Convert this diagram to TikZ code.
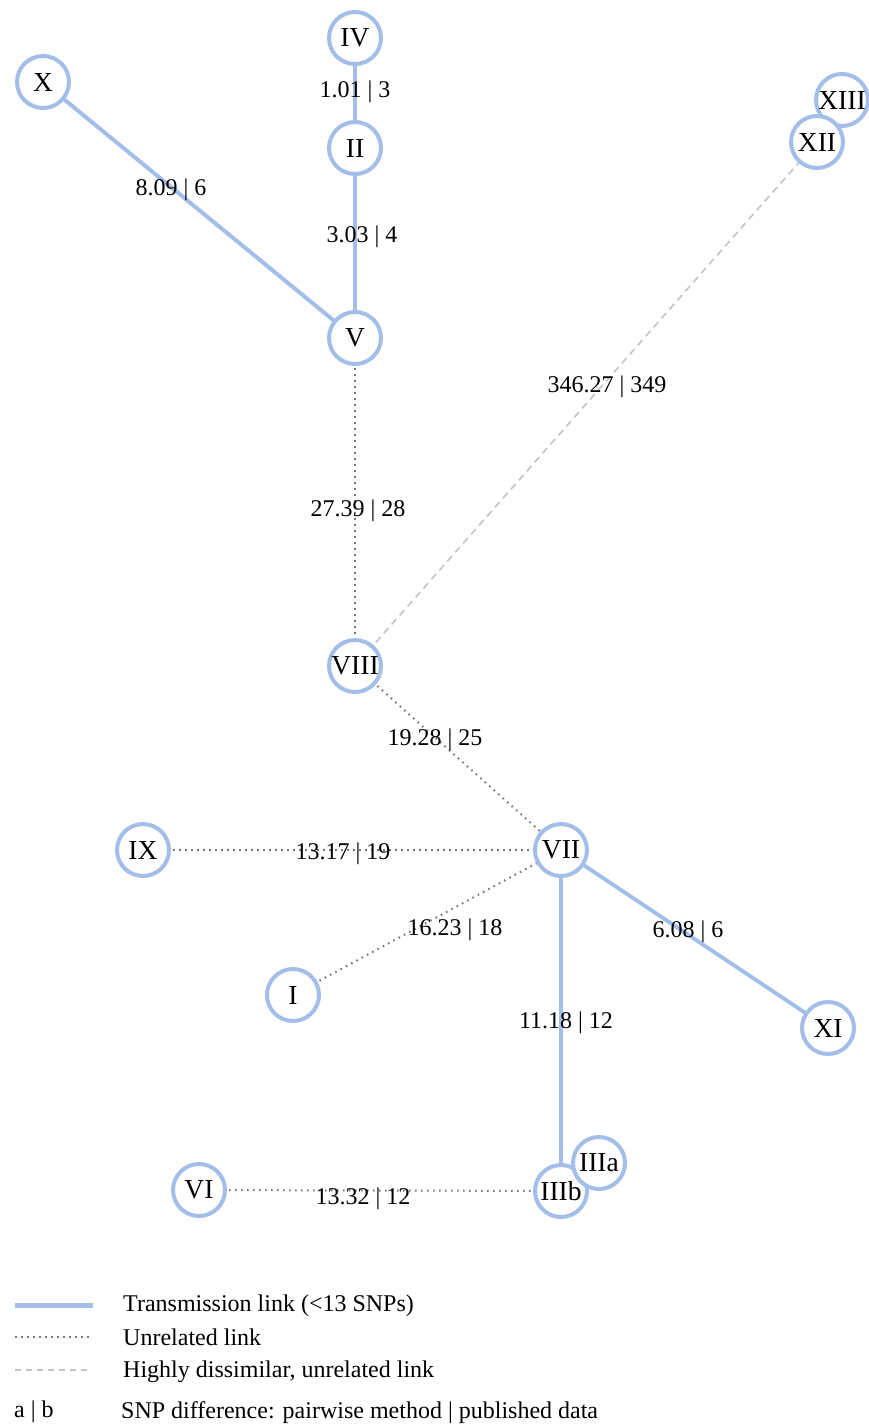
\documentclass[tikz,border=0pt]{standalone}
\usepackage{fontspec}
\setmainfont{Liberation Serif}
\definecolor{linkblue}{RGB}{163,190,232}
\definecolor{dotgray}{RGB}{120,120,120}
\definecolor{dashgray}{RGB}{195,195,195}
\begin{document}
\begin{tikzpicture}[x=1pt,y=-1pt,
  every node/.style={font=\fontsize{24}{28}\selectfont},
  case/.style={circle,draw=linkblue,line width=4pt,fill=white,minimum size=52pt,inner sep=0pt,font=\fontsize{27.5}{30}\selectfont},
  trans/.style={draw=linkblue,line width=4pt},
  unrel/.style={draw=dotgray,line width=2pt,dash pattern=on 1.6pt off 4.4pt},
  dissim/.style={draw=dashgray,line width=1.6pt,dash pattern=on 7pt off 5pt},
  elab/.style={inner sep=0pt},
  legtext/.style={anchor=west,inner sep=0pt}]
\useasboundingbox (0,0) rectangle (869,1425);
% coordinates
\coordinate (pIV) at (355,38);
\coordinate (pX) at (43,82);
\coordinate (pII) at (355,148);
\coordinate (pXIII) at (842,100);
\coordinate (pXII) at (817,142);
\coordinate (pV) at (355,338);
\coordinate (pVIII) at (355,666);
\coordinate (pIX) at (143,850);
\coordinate (pVII) at (561,850);
\coordinate (pI) at (293,995);
\coordinate (pXI) at (828,1028);
\coordinate (pVI) at (199,1190);
\coordinate (pIIIb) at (561,1191);
\coordinate (pIIIa) at (599,1163);
% edges
\draw[trans] (pIV) -- (pII);
\draw[trans] (pII) -- (pV);
\draw[trans] (pX) -- (pV);
\draw[unrel] (pV) -- (pVIII);
\draw[dissim] (pXII) -- (pVIII);
\draw[unrel] (pVIII) -- (pVII);
\draw[unrel] (pIX) -- (pVII);
\draw[unrel] (pI) -- (pVII);
\draw[trans] (pVII) -- (pXI);
\draw[trans] (pVII) -- (pIIIb);
\draw[unrel] (pVI) -- (pIIIb);
% nodes
\node[case] (IV) at (pIV) {IV};
\node[case] (X) at (pX) {X};
\node[case] (II) at (pII) {II};
\node[case] (XIII) at (pXIII) {XIII};
\node[case] (XII) at (pXII) {XII};
\node[case] (V) at (pV) {V};
\node[case] (VIII) at (pVIII) {VIII};
\node[case] (IX) at (pIX) {IX};
\node[case] (VII) at (pVII) {VII};
\node[case] (I) at (pI) {I};
\node[case] (XI) at (pXI) {XI};
\node[case] (VI) at (pVI) {VI};
\node[case] (IIIb) at (pIIIb) {IIIb};
\node[case] (IIIa) at (pIIIa) {IIIa};
% edge labels
\node[elab] (l1) at (355,92) {1.01 | 3};
\node[elab] (l2) at (171,190) {8.09 | 6};
\node[elab] (l3) at (362,237) {3.03 | 4};
\node[elab] (l4) at (607,387) {346.27 | 349};
\node[elab] (l5) at (358,511) {27.39 | 28};
\node[elab] (l6) at (435,740) {19.28 | 25};
\node[elab] (l7) at (343,854) {13.17 | 19};
\node[elab] (l8) at (455,930) {16.23 | 18};
\node[elab] (l9) at (688,932) {6.08 | 6};
\node[elab] (l10) at (566,1023) {11.18 | 12};
\node[elab] (l11) at (363,1199) {13.32 | 12};
% legend
\coordinate (la1) at (15,1305); \coordinate (lb1) at (93,1305);
\coordinate (la2) at (15,1337); \coordinate (lb2) at (90,1337);
\coordinate (la3) at (15,1370); \coordinate (lb3) at (90,1370);
\draw[draw=linkblue,line width=5pt] (la1) -- (lb1);
\draw[unrel,line width=1.3pt] (la2) -- (lb2);
\draw[dissim,line width=1.3pt,dash pattern=on 6pt off 5pt] (la3) -- (lb3);
\node[legtext] (t1) at (123,1306) {Transmission link (<13 SNPs)};
\node[legtext] (t2) at (123,1337) {Unrelated link};
\node[legtext] (t3) at (123,1372) {Highly dissimilar, unrelated link};
\node[legtext] (t4) at (14,1412) {a | b};
\node[legtext] (t5) at (121,1413) {SNP difference: pairwise method | published data};
\end{tikzpicture}
\end{document}
